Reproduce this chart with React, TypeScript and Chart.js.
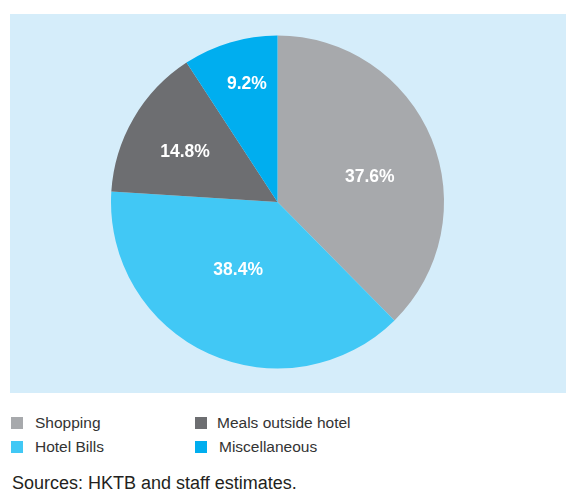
import React, { useEffect, useRef } from "react";
import { Chart, registerables } from "chart.js";

Chart.register(...registerables);

const categories = ["Shopping", "Hotel Bills", "Meals outside hotel", "Miscellaneous"];
const shares = [37.6, 38.4, 14.8, 9.2];
const sliceColors = ["#a7a9ac", "#41c8f5", "#6d6e71", "#00aeef"];
const sourceNote = "Sources: HKTB and staff estimates.";

const labelRadius = [0.575, 0.473, 0.63, 0.73];
const labelAngleShift = [7, 5.5, -2, 2];
const legendTextGap = [12, 12, 10, 12];

const sliceLabels = {
  id: "sliceLabels",
  afterDatasetsDraw(chart: any) {
    const ctx = chart.ctx;
    const meta = chart.getDatasetMeta(0);
    ctx.save();
    ctx.fillStyle = "#ffffff";
    ctx.font = "bold 17.5px 'Liberation Sans', Arial, sans-serif";
    ctx.textAlign = "center";
    ctx.textBaseline = "middle";
    meta.data.forEach((arc: any, i: number) => {
      const p = arc.getProps(["x", "y", "startAngle", "endAngle", "outerRadius"], true);
      const mid = (p.startAngle + p.endAngle) / 2 + (labelAngleShift[i] * Math.PI) / 180;
      const r = p.outerRadius * labelRadius[i];
      ctx.fillText(shares[i].toFixed(1) + "%", p.x + Math.cos(mid) * r, p.y + Math.sin(mid) * r);
    });
    ctx.restore();
  },
};

export default function App() {
  const ref = useRef<HTMLCanvasElement | null>(null);
  useEffect(() => {
    if (!ref.current) return;
    const chart = new Chart(ref.current, {
      type: "pie",
      data: {
        labels: categories,
        datasets: [
          {
            data: shares,
            backgroundColor: sliceColors,
            borderWidth: 0,
          },
        ],
      },
      options: {
        animation: false,
        responsive: false,
        maintainAspectRatio: false,
        layout: { padding: { top: 21.5, bottom: 24.5, left: 101, right: 122 } },
        plugins: {
          legend: { display: false },
          tooltip: { enabled: false },
        },
      },
      plugins: [sliceLabels],
    });
    return () => chart.destroy();
  }, []);

  const font = "'Liberation Sans', Arial, sans-serif";
  return (
    <div style={{ position: "absolute", left: 0, top: 0, width: 566, height: 492, background: "#fff", fontFamily: font }}>
      <div style={{ position: "absolute", left: 10, top: 14, width: 556, height: 379, background: "#d5edfa" }}>
        <canvas ref={ref} width={556} height={379} style={{ display: "block", width: 556, height: 379 }} />
      </div>
      {categories.map((name, k) => {
        const col = Math.floor(k / 2);
        const row = k % 2;
        return (
          <div
            key={name}
            style={{
              position: "absolute",
              left: col === 0 ? 11 : 195,
              top: 417 + row * 24,
              height: 12,
              display: "flex",
              alignItems: "center",
              whiteSpace: "nowrap",
            }}
          >
            <span style={{ display: "inline-block", width: 12, height: 12, background: sliceColors[k] }} />
            <span style={{ marginLeft: legendTextGap[k], fontSize: 15.5, color: "#333333", lineHeight: "12px" }}>
              {name}
            </span>
          </div>
        );
      })}
      <div style={{ position: "absolute", left: 12, top: 472, fontSize: 18, color: "#231f20", lineHeight: "22px", whiteSpace: "nowrap" }}>
        {sourceNote}
      </div>
    </div>
  );
}
